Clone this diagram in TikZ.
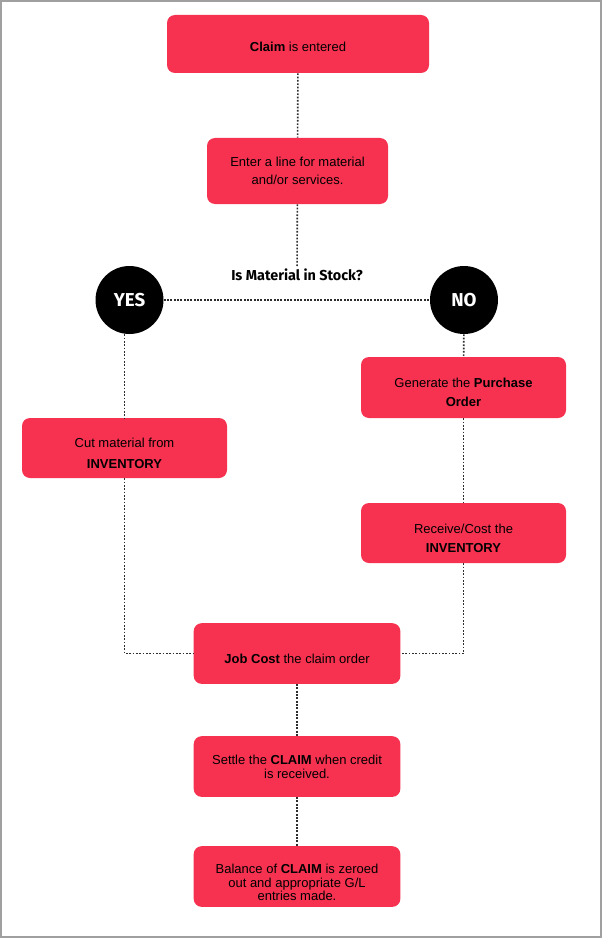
\documentclass[tikz,border=0pt]{standalone}
\usepackage{fontspec}
\setmainfont{Liberation Sans}
\newfontfamily\headfont{Fira Sans}
\usetikzlibrary{positioning}
\definecolor{boxred}{RGB}{247,50,80}
\definecolor{dotgray}{RGB}{45,45,45}
\definecolor{framegray}{RGB}{160,160,160}
\newcommand\lowerby[1]{\rule{0pt}{#1}}
\tikzset{
  stepbox/.style={fill=boxred,rounded corners=6pt,inner sep=0pt,align=center,
    minimum width=155pt,minimum height=45.5pt,font=\fontsize{9.75}{14.5}\selectfont},
  tightbox/.style={stepbox,font=\fontsize{9.75}{10.5}\selectfont},
  answer/.style={circle,fill=black,minimum size=51pt,inner sep=0pt,
    text=white,font=\headfont\bfseries\fontsize{14}{16}\selectfont},
  link/.style={color=dotgray,line width=1.2pt,dash pattern=on 1.3pt off 1.2pt}
}
\begin{document}
\begin{tikzpicture}[x=0.75pt,y=-0.75pt]
\useasboundingbox (0,0) rectangle (602,938);
\draw[line width=1.5pt,color=framegray](1,1) rectangle (601,937);
\node[stepbox,minimum width=196.5pt,minimum height=43.5pt] (claim) at (298,44) {\lowerby{11.6pt}\textbf{Claim} is entered};
\node[stepbox,minimum width=135.75pt,minimum height=49.5pt,font=\fontsize{9.75}{13.7}\selectfont] (line) at (297.5,171) {Enter a line for material\\and/or services.};
\node[font=\headfont\bfseries\fontsize{10.8}{12}\selectfont,inner sep=1pt] (stock) at (297,275) {Is Material in Stock?};
\node[answer] (yes) at (129.5,300) {YES};
\node[answer] (no) at (464,300) {NO};
\node[stepbox,minimum width=153.75pt,minimum height=45pt,font=\fontsize{9.75}{15.75}\selectfont] (cut) at (124.5,448) {\lowerby{14.6pt}Cut material from\\\textbf{INVENTORY}};
\node[stepbox,minimum width=153.75pt,minimum height=45.75pt] (order) at (463.5,387.5) {\lowerby{14.6pt}Generate the \textbf{Purchase}\\\textbf{Order}};
\node[stepbox,minimum width=153.75pt,minimum height=45pt] (receive) at (463.5,533) {\lowerby{14.6pt}Receive/Cost the\\\textbf{INVENTORY}};
\node[stepbox] (job) at (297,653.5) {\lowerby{14.6pt}\textbf{Job Cost} the claim order};
\node[tightbox] (settle) at (297,766.5) {Settle the \textbf{CLAIM} when credit\\is received.};
\node[tightbox,font=\fontsize{9.75}{10}\selectfont] (balance) at (297,876.5) {\lowerby{16.1pt}Balance of \textbf{CLAIM} is zeroed\\out and appropriate G/L\\entries made.};
\draw[link](claim)--(line);
\draw[link](line)--(stock);
\draw[link](yes)--(no);
\draw[link](cut.north |- yes.south)--(cut);
\draw[link](no)--(order);
\draw[link](order)--(receive);
\draw[link](cut)|-(job);
\draw[link](receive)|-(job);
\draw[link](job)--(settle);
\draw[link](settle)--(balance);
\end{tikzpicture}
\end{document}
